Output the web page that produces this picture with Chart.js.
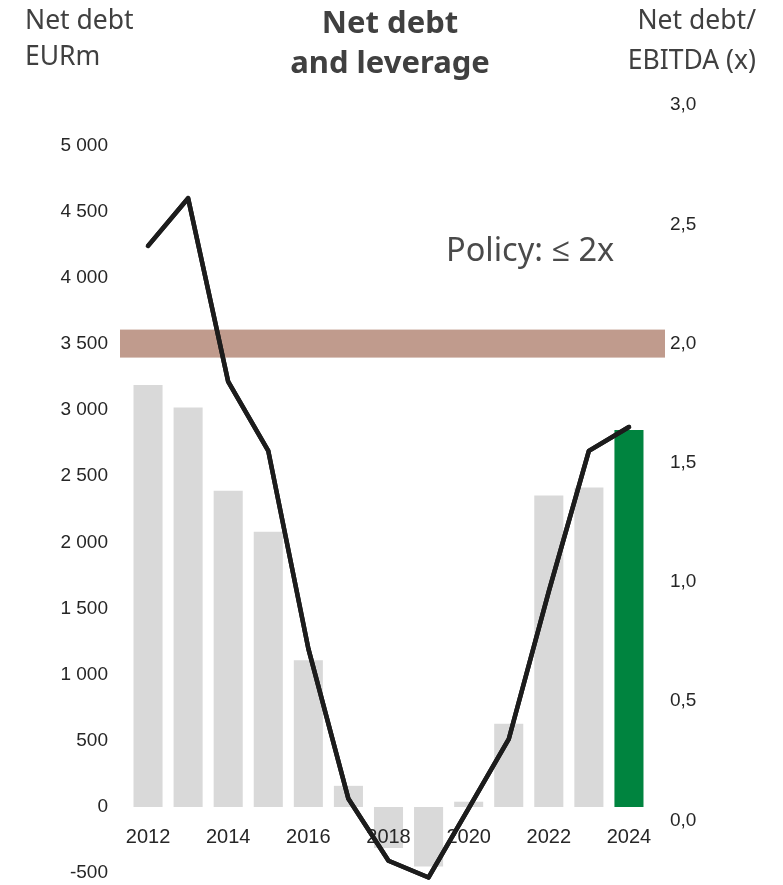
<!DOCTYPE html>
<html>
<head>
<meta charset="utf-8">
<script src="https://cdn.jsdelivr.net/npm/chart.js@4.4.1/dist/chart.umd.min.js"></script>
<style>
  html, body { margin: 0; padding: 0; background: #fff; }
  #wrap { position: relative; width: 783px; height: 885px; }
  canvas { position: absolute; left: 0; top: 0; }
  .lbl { position: absolute; color: #404040; font-family: "Noto Sans", "Open Sans", sans-serif; line-height: 1; white-space: nowrap; }
  .head { font-size: 26.5px; }
  .title { font-size: 31px; font-weight: bold; width: 300px; left: 240px; text-align: center; }
  .right { text-align: right; right: 27px; }
  #policy { font-size: 32.5px; left: 446px; top: 233px; color: #4a4a4a; }
</style>
</head>
<body>
<div id="wrap">
  <canvas id="chart" width="783" height="885"></canvas>
  <div class="lbl head" style="left:25px; top:6px;">Net debt</div>
  <div class="lbl head" style="left:25px; top:42px;">EURm</div>
  <div class="lbl title" style="top:6px;">Net debt</div>
  <div class="lbl title" style="top:46px;">and leverage</div>
  <div class="lbl head right" style="top:6px;">Net debt/</div>
  <div class="lbl head right" style="top:46px;">EBITDA (x)</div>
  <div class="lbl" id="policy">Policy: ≤ 2x</div>
</div>

<script>
// --- data ---
const years = ['2012', '2013', '2014', '2015', '2016', '2017', '2018', '2019', '2020', '2021', '2022', '2023', '2024'];
const netDebt = [3190, 3020, 2390, 2080, 1110, 160, -310, -450, 40, 630, 2355, 2415, 2850];      // EURm
const leverage = [2.41, 2.61, 1.84, 1.55, 0.72, 0.09, -0.17, -0.24, 0.05, 0.34, 0.96, 1.55, 1.65]; // x
const debtTicks = [-500, 0, 500, 1000, 1500, 2000, 2500, 3000, 3500, 4000, 4500, 5000];
const leverageTicks = [0, 0.5, 1.0, 1.5, 2.0, 2.5, 3.0];
const policyLevel = 2.0;

const GREY = '#d9d9d9';
const GREEN = '#00843f';
const BAND = '#c09b8d';
const TEXT = '#262626';
const AXIS_FONT = 'Liberation Sans, Arial, sans-serif';

// policy band across the plot, centred on the leverage level
const policyBand = {
    id: 'policyBand',
    beforeDatasetsDraw(chart) {
        const { ctx, chartArea } = chart;
        const y = chart.scales.y1.getPixelForValue(policyLevel);
        ctx.save();
        ctx.fillStyle = BAND;
        ctx.fillRect(chartArea.left - 8, y - 14, chartArea.right - chartArea.left + 24, 28);
        ctx.restore();
    }
};

// year labels sit over the bars, the leverage line goes over everything
const lineOnTop = {
    id: 'lineOnTop',
    afterDraw(chart) {
        const meta = chart.getDatasetMeta(0);
        const { ctx, chartArea } = chart;
        ctx.save();
        ctx.beginPath();
        ctx.rect(chartArea.left - 10, chartArea.top - 10, chartArea.width + 20, chartArea.height + 10);
        ctx.clip();
        meta.controller.draw();
        ctx.restore();
    }
};

// fixed axis widths so the plot sits where it should
const fixWidth = w => scale => {
    scale.width = w;
    scale.paddingTop = 0;
    scale.paddingBottom = 0;
};

const fmtThousands = v => String(v).replace(/\B(?=(\d{3})+(?!\d))/g, ' ');

new Chart(document.getElementById('chart'), {
    type: 'bar',
    data: {
        labels: years,
        datasets: [
            {
                type: 'line',
                label: 'Net debt/EBITDA',
                data: leverage,
                yAxisID: 'y1',
                borderColor: '#1c1c1c',
                borderWidth: 4.5,
                borderCapStyle: 'round',
                borderJoinStyle: 'round',
                pointRadius: 0,
                tension: 0,
                order: 0
            },
            {
                label: 'Net debt',
                data: netDebt,
                yAxisID: 'y',
                backgroundColor: years.map((_, i) => i === years.length - 1 ? GREEN : GREY),
                categoryPercentage: 1,
                barPercentage: 0.725,
                order: 1
            }
        ]
    },
    options: {
        responsive: false,
        animation: false,
        layout: { padding: { top: 95, bottom: 3, left: 0, right: 0 } },
        plugins: {
            legend: { display: false },
            tooltip: { enabled: false }
        },
        scales: {
            x: {
                type: 'category',
                position: { y: 0 },
                offset: true,
                grid: { display: false, drawTicks: false },
                border: { display: false },
                ticks: {
                    z: 1,
                    autoSkip: false,
                    maxRotation: 0,
                    padding: 18,
                    color: TEXT,
                    font: { family: AXIS_FONT, size: 20 },
                    callback: function (val, idx) { return idx % 2 === 0 ? this.getLabelForValue(val) : ''; }
                },
                afterFit: scale => { scale.paddingLeft = 0; scale.paddingRight = 0; }
            },
            y: {
                position: 'left',
                min: -567,
                max: 5382,
                grid: { display: false, drawTicks: false },
                border: { display: false },
                afterBuildTicks: scale => { scale.ticks = debtTicks.map(v => ({ value: v })); },
                afterFit: fixWidth(128),
                ticks: {
                    padding: 20,
                    color: TEXT,
                    font: { family: AXIS_FONT, size: 19 },
                    callback: v => fmtThousands(v)
                }
            },
            y1: {
                position: 'right',
                min: -0.259,
                max: 3.043,
                grid: { display: false, drawTicks: false },
                border: { display: false },
                afterBuildTicks: scale => { scale.ticks = leverageTicks.map(v => ({ value: v })); },
                afterFit: fixWidth(134),
                ticks: {
                    padding: 21,
                    color: TEXT,
                    font: { family: AXIS_FONT, size: 19 },
                    callback: v => v.toFixed(1).replace('.', ',')
                }
            }
        }
    },
    plugins: [policyBand, lineOnTop]
});
</script>
</body>
</html>
